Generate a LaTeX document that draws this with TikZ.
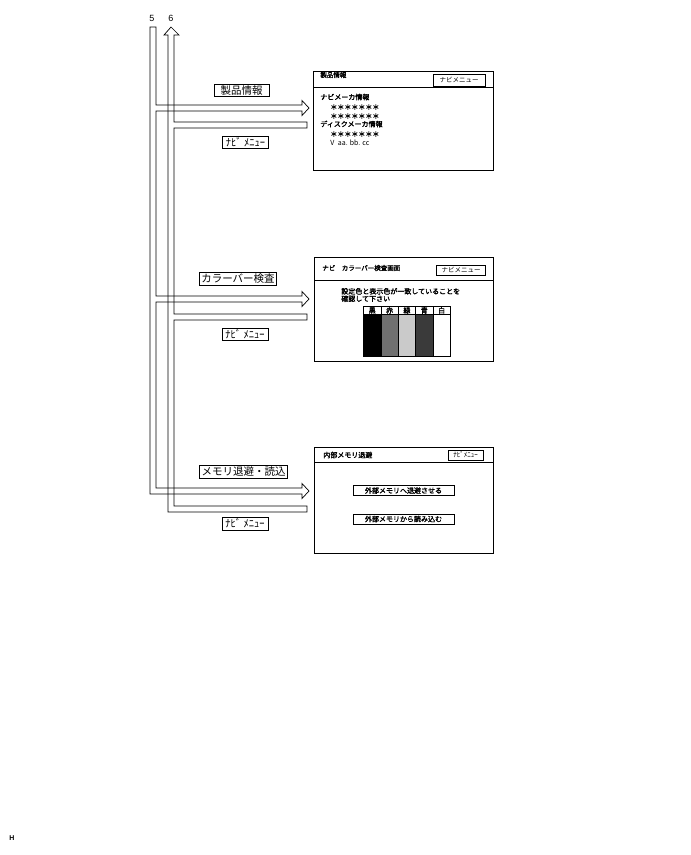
\documentclass[tikz,border=0pt]{standalone}
\usepackage{fontspec}
\setmainfont{Noto Sans CJK JP}[AutoFakeBold=2]
\setsansfont{Liberation Sans}
\usetikzlibrary{positioning}

\definecolor{aka}{RGB}{112,112,112}
\definecolor{midori}{RGB}{202,202,202}
\definecolor{ao}{RGB}{58,58,58}

\begin{document}
\begin{tikzpicture}[x=1pt, y=-1pt, line width=0.7pt, line join=miter,
  tag/.style={draw, line width=1pt, font=\fontsize{10.5}{11}\selectfont, inner xsep=2pt, inner ysep=1.2pt, text height=8.8pt, text depth=1.7pt},
  navi/.style={tag, minimum width=46pt},
  txt/.style={font=\bfseries\fontsize{7}{7.5}\selectfont, inner sep=0pt, anchor=west},
  btn/.style={draw, line width=0.6pt, font=\fontsize{6.5}{7}\selectfont, inner sep=0pt},
  cell/.style={draw, line width=0.6pt, anchor=north west, inner sep=0pt, minimum width=17.34pt, font=\bfseries\fontsize{7}{7}\selectfont}]
\useasboundingbox (0,0) rectangle (691,855);

\node[font=\sffamily\fontsize{9}{9}\selectfont] (n5) at (152,18.5) {5};
\node[font=\sffamily\fontsize{9}{9}\selectfont] (n6) at (171,18.5) {6};

% 5
\draw (150,27) -- (150,494) -- (302,494) -- (302,498.5) -- (309,491) -- (302,483.5) -- (302,488)
  -- (156,488) -- (156,302) -- (302,302) -- (302,306.5) -- (309,299) -- (302,291.5) -- (302,296)
  -- (156,296) -- (156,111) -- (302,111) -- (302,115.5) -- (309,108) -- (302,100.5) -- (302,105)
  -- (156,105) -- (156,27) -- cycle;
% 6
\draw (168,35) -- (168,512) -- (307,512) -- (307,506) -- (174,506) -- (174,320) -- (307,320) -- (307,314)
  -- (174,314) -- (174,128) -- (307,128) -- (307,122) -- (174,122) -- (174,35) -- (179,35) -- (171,27)
  -- (164,35) -- cycle;

\node[tag, minimum width=55pt] (t1) at (241.5,90.5) {製品情報};
\node[navi] (m1) at (245.5,142.5) {ﾅﾋﾞ ﾒﾆｭｰ};
\node[tag] (t2) at (238,279) {カラーバー検査};
\node[navi] (m2) at (245,334.5) {ﾅﾋﾞ ﾒﾆｭｰ};
\node[tag] (t3) at (243.5,472) {メモリ退避・読込};
\node[navi] (m3) at (245,524) {ﾅﾋﾞ ﾒﾆｭｰ};

% screen 1
\draw[line width=0.8pt] (313,71) rectangle (493,170);
\draw[line width=0.6pt] (313,87) -- (493,87);
\node[txt, font=\bfseries\fontsize{6.5}{7}\selectfont] (s1t) at (320,75) {製品情報};
\node[btn, minimum width=52pt, minimum height=12pt] (s1b) at (459,80) {ナビメニュー};
\node[txt] (s1a) at (320,97) {ナビメーカ情報};
\node[txt] (s1b1) at (330,107) {＊＊＊＊＊＊＊};
\node[txt] (s1b2) at (330,116) {＊＊＊＊＊＊＊};
\node[txt] (s1c) at (320,124) {ディスクメーカ情報};
\node[txt] (s1d) at (330,134) {＊＊＊＊＊＊＊};
\node[txt, font=\fontsize{7}{7.5}\selectfont] (s1e) at (330,143) {V\enspace aa. bb. cc};

% screen 2
\draw[line width=0.8pt] (314,257) rectangle (493,361);
\draw[line width=0.6pt] (314,280.5) -- (493,280.5);
\node[txt, font=\bfseries\fontsize{6.5}{7}\selectfont] (s2t) at (322,268) {ナビ　カラーバー検査画面};
\node[btn, minimum width=49pt, minimum height=10pt] (s2b) at (461,270) {ナビメニュー};
\node[txt] (s2a) at (341,291.3) {設定色と表示色が一致していることを};
\node[txt] (s2c) at (341,298.7) {確認して下さい};
\foreach \c/\f [count=\i from 0] in {黒/black, 赤/aka, 緑/midori, 青/ao, 白/white}{
  \node[cell, minimum height=7.7pt] (h\i) at ({363.3+17.34*\i},306.3) {\c};
  \node[cell, minimum height=42.3pt, fill=\f] (c\i) at ({363.3+17.34*\i},314) {};
}

% screen 3
\draw[line width=0.8pt] (314,447) rectangle (493,553);
\draw[line width=0.6pt] (314,462) -- (493,462);
\node[txt] (s3t) at (323,455) {内部メモリ退避};
\node[btn, minimum width=35pt, minimum height=10pt, font=\fontsize{7}{7}\selectfont] (s3b) at (465.5,455) {ﾅﾋﾞﾒﾆｭｰ};
\node[btn, minimum width=101pt, minimum height=9.5pt, font=\bfseries\fontsize{7}{7}\selectfont] (s3x) at (403.5,490.5) {外部メモリへ退避させる};
\node[btn, minimum width=101pt, minimum height=10pt, font=\bfseries\fontsize{7}{7}\selectfont] (s3y) at (403.5,519) {外部メモリから読み込む};

\node[font=\sffamily\bfseries\fontsize{7}{7}\selectfont] (h) at (12,838) {H};
\end{tikzpicture}
\end{document}
